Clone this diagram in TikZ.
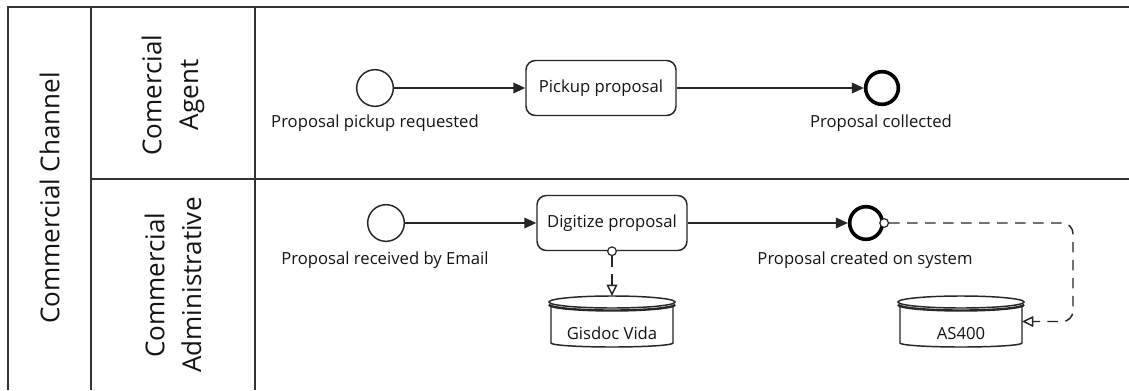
\documentclass[tikz,border=0pt]{standalone}
\usepackage{fontspec}
\setmainfont{Open Sans}
\usetikzlibrary{arrows.meta,calc}

% data store: invisible anchor box, cylinder outline, and its caption
\newcommand\datastore[4]{%
  \node[dsbox] (#1) at (#2,-321.5) {};
  \draw[dsline, fill=white] ({#2-61},-305) -- ({#2-61},-343)
    arc[start angle=180, end angle=360, x radius=61, y radius=4] -- ({#2+61},-305);
  \draw[dsline, fill=white] (#2,-302) ellipse[x radius=63, y radius=6];
  \draw[dsline, line width=1.8pt] ({#2-63},-304.5)
    arc[start angle=180, end angle=360, x radius=63, y radius=6];
  \node[anchor=base] (#4) at (#2,-339) {#3};
}

\begin{document}
\begin{tikzpicture}[x=0.75pt, y=0.75pt,
  every node/.style={text=black!92, font=\fontsize{12.5}{15}\selectfont},
  frame/.style={draw=black!80, line width=1.5pt},
  header/.style={font=\fontsize{19.5}{27.5}\selectfont, rotate=90, align=center},
  startev/.style={circle, draw=black!85, line width=1.1pt, minimum size=27.5pt, inner sep=0},
  endev/.style={circle, draw=black, line width=2.7pt, minimum size=24.5pt, inner sep=0},
  task/.style={rectangle, rounded corners=7pt, draw=black!85, line width=1.1pt,
    minimum width=112.5pt, minimum height=41.25pt, inner sep=0},
  evlabel/.style={anchor=base},
  flow/.style={draw=black!85, line width=1.1pt, -{Triangle[length=9pt, width=8pt]}},
  assoc/.style={draw=black!85, line width=1.1pt, dash pattern=on 8pt off 5.5pt,
    -{Triangle[open, length=8.5pt, width=8pt]}},
  assocdot/.style={circle, draw=black!85, fill=white, line width=0.9pt, minimum size=6.5pt, inner sep=0},
  dsbox/.style={rectangle, minimum width=91.5pt, minimum height=38.25pt, inner sep=0, outer sep=0},
  dsline/.style={draw=black!85, line width=1.1pt},
]
\fill[white] (0,0) rectangle (1129,-390);
\useasboundingbox (0,0) rectangle (1129,-390);

% pool and lanes
\draw[frame] (1129,-7) -- (8,-7) -- (8,-390);
\draw[frame] (91,-7) -- (91,-390);
\draw[frame] (255,-7) -- (255,-390);
\draw[frame] (91,-179) -- (1129,-179);

\node[header] (pool) at (49.5,-198) {Commercial Channel};
\node[header] (agent) at (173,-95) {Comercial\\Agent};
\node[header] (admin) at (173,-285) {Commercial\\Administrative};

% commercial agent lane
\node[startev] (s1) at (375,-88) {};
\node[evlabel] (s1l) at (375,-127) {Proposal pickup requested};
\node[task] (t1) at (601,-88) {Pickup proposal};
\node[endev] (e1) at (882,-88) {};
\node[evlabel] (e1l) at (881,-127) {Proposal collected};

\draw[flow] (s1) -- (t1);
\draw[flow] (t1) -- (e1);

% commercial administrative lane
\node[startev] (s2) at (386,-223) {};
\node[evlabel] (s2l) at (385,-264) {Proposal received by Email};
\node[task] (t2) at (612,-223) {Digitize proposal};
\node[endev] (e2) at (866,-223) {};
\node[evlabel] (e2l) at (865,-264) {Proposal created on system};

\draw[flow] (s2) -- (t2);
\draw[flow] (t2) -- (e2);

% data stores and associations
\datastore{gis}{612}{Gisdoc Vida}{gisl}
\datastore{as4}{961}{AS400}{as4l}

\node[assocdot] (d1) at (t2.south) {};
\draw[assoc] (d1) -- (d1 |- gis.north);

\node[assocdot] (d2) at (e2.east) {};
\coordinate (rx) at (1073,0);
\draw[assoc, rounded corners=8pt] (d2) -- (d2 -| rx) |- (as4);
\end{tikzpicture}
\end{document}
